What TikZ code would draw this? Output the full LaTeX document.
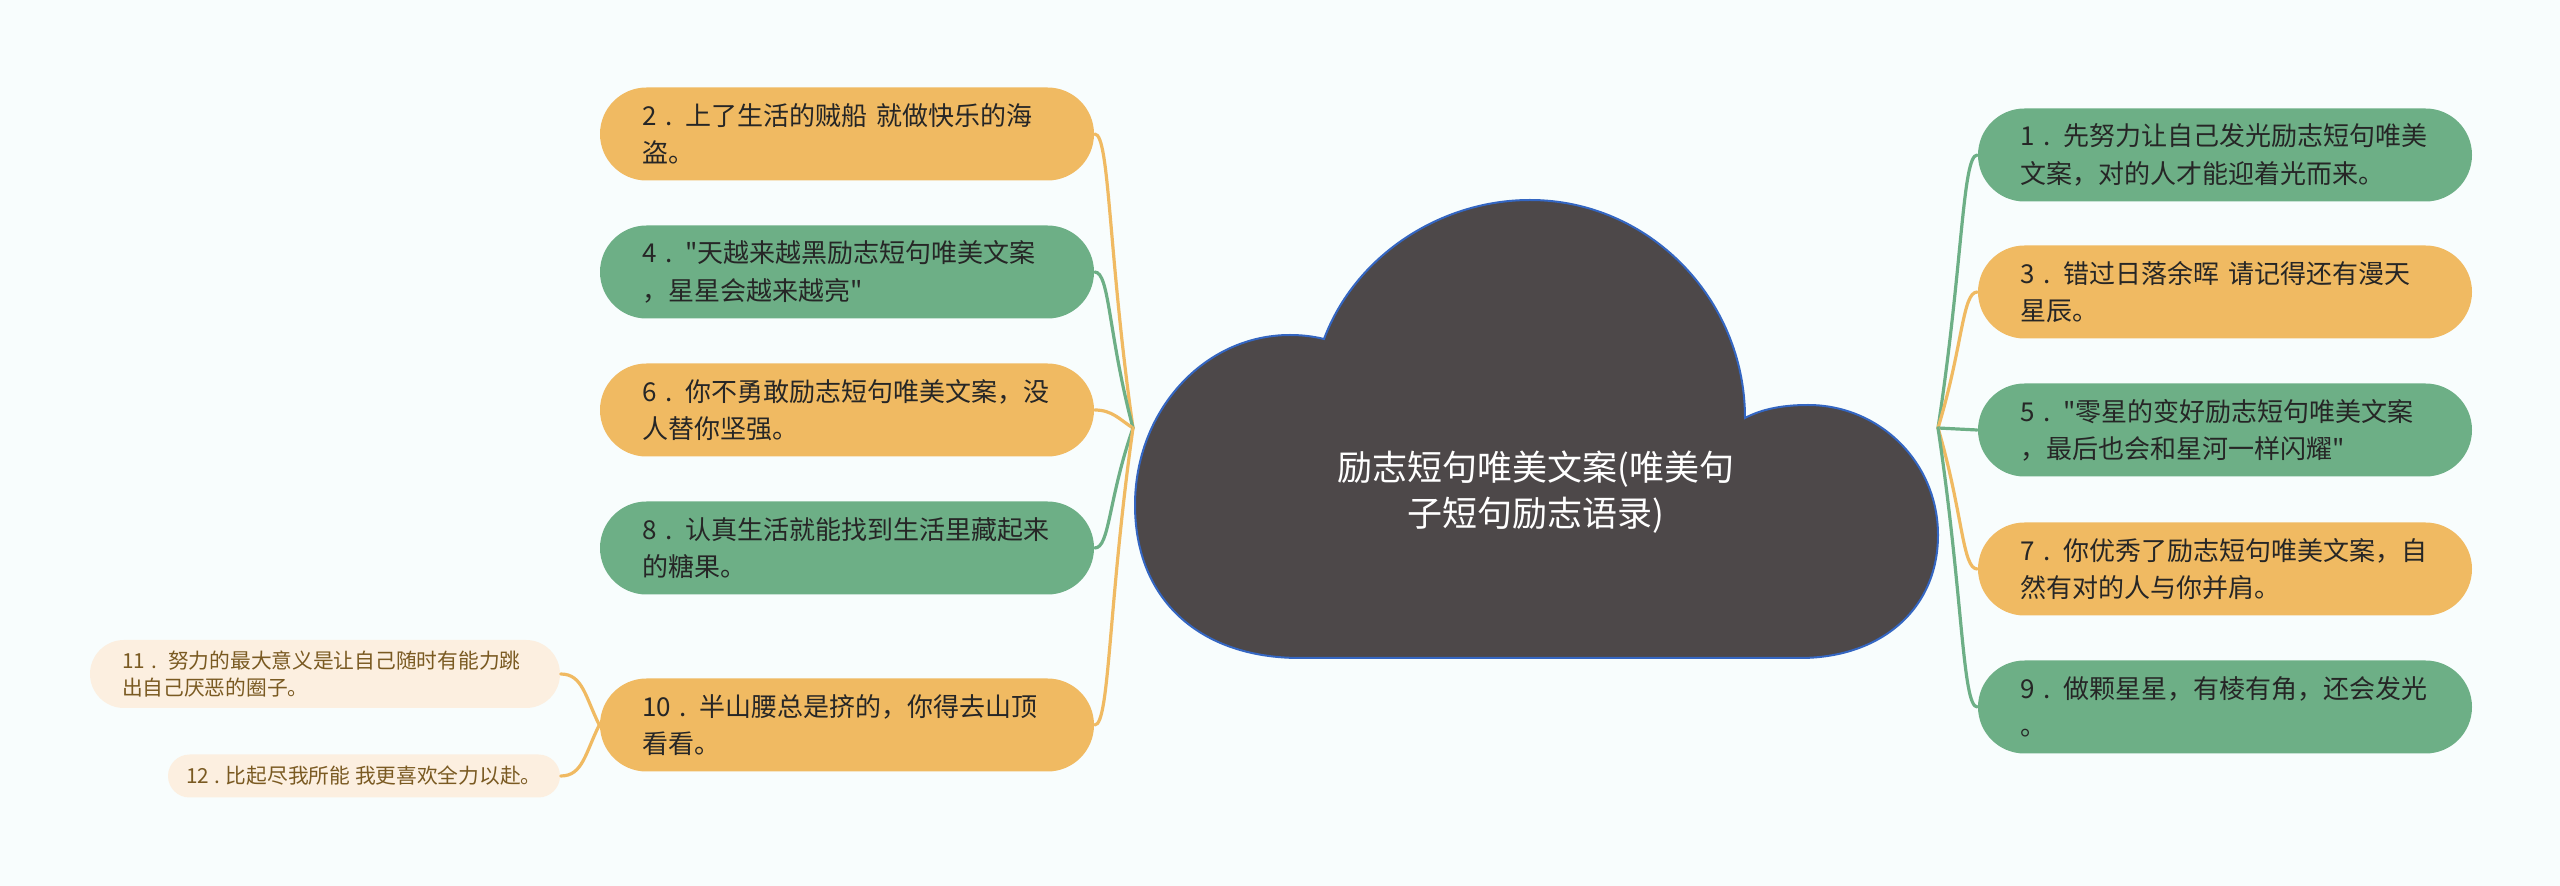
\documentclass[tikz,border=0pt]{standalone}
\usepackage{fontspec}
\newfontfamily\cjk{Noto Sans CJK SC}[Ligatures=TeXOff]
\definecolor{bgcol}{HTML}{F8FDFD}
\definecolor{orangebox}{HTML}{F0BA62}
\definecolor{greenbox}{HTML}{6DAF86}
\definecolor{palebox}{HTML}{FCEFE0}
\definecolor{cloudfill}{HTML}{4D4849}
\definecolor{cloudedge}{HTML}{3466C2}
\definecolor{browntext}{HTML}{7A5A22}
\definecolor{darktext}{HTML}{262626}

\begin{document}
\begin{tikzpicture}[x=0.1mm,y=-0.1mm,
		leaf/.style={rounded corners=4.65mm, minimum height=9.3mm, text width=41mm, inner xsep=4.2mm, inner ysep=0pt, align=left, text=darktext, font=\cjk\fontsize{7.4pt}{10.6pt}\selectfont},
		orangeleaf/.style={leaf, fill=orangebox},
		greenleaf/.style={leaf, fill=greenbox},
		smallleaf/.style={fill=palebox, inner ysep=0pt, text=browntext, font=\cjk\fontsize{5.9pt}{7.5pt}\selectfont},
		oline/.style={draw=orangebox, line width=0.32mm, line cap=round},
		gline/.style={draw=greenbox, line width=0.32mm, line cap=round}]
	\useasboundingbox (0,0) rectangle (2560,886);
	\fill[bgcol] (0,0) rectangle (2560,886);

	% cloud
	\draw[fill=cloudfill, draw=cloudedge, line width=0.2mm]
		(1300,658) -- (1800,658)
		.. controls (1880,658) and (1938,610) .. (1938,535)
		.. controls (1938,463) and (1880,405) .. (1808,405)
		.. controls (1780,405) and (1760,410) .. (1745,418)
		.. controls (1745,299) and (1649,200) .. (1530,200)
		.. controls (1440,200) and (1355,256) .. (1324,339)
		.. controls (1312,336) and (1300,335) .. (1290,335)
		.. controls (1204,335) and (1135,411) .. (1135,505)
		.. controls (1135,600) and (1200,658) .. (1300,658) -- cycle;
	\node[text=white, align=center, font=\cjk\fontsize{9.96pt}{13.1pt}\selectfont] (root) at (1536,492) {励志短句唯美文案(唯美句\\子短句励志语录)};
	\coordinate (jl) at (1133,428);
	\coordinate (jr) at (1938,428);

	% left
	\node[orangeleaf] (n2) at (847,134) {2 . 上了生活的贼船 就做快乐的海\\盗。};
	\node[greenleaf] (n4) at (847,272) {4 . "天越来越黑励志短句唯美文案\\，星星会越来越亮"};
	\node[orangeleaf] (n6) at (847,410) {6 . 你不勇敢励志短句唯美文案，没\\人替你坚强。};
	\node[greenleaf] (n8) at (847,548) {8 . 认真生活就能找到生活里藏起来\\的糖果。};
	\node[orangeleaf] (n10) at (847,725) {10 . 半山腰总是挤的，你得去山顶\\看看。};
	\node[smallleaf, rounded corners=3.4mm, minimum height=6.8mm, text width=40.6mm, inner xsep=3.2mm, align=left] (n11) at (325,674) {11 . 努力的最大意义是让自己随时有能力跳\\出自己厌恶的圈子。};
	\node[smallleaf, rounded corners=2.15mm, minimum height=4.3mm, minimum width=39.2mm] (n12) at (364,776) {12 . 比起尽我所能 我更喜欢全力以赴。};

	% right
	\node[greenleaf] (n1) at (2225,155) {1 . 先努力让自己发光励志短句唯美\\文案，对的人才能迎着光而来。};
	\node[orangeleaf] (n3) at (2225,292) {3 . 错过日落余晖 请记得还有漫天\\星辰。};
	\node[greenleaf] (n5) at (2225,430) {5 . "零星的变好励志短句唯美文案\\，最后也会和星河一样闪耀"};
	\node[orangeleaf] (n7) at (2225,569) {7 . 你优秀了励志短句唯美文案，自\\然有对的人与你并肩。};
	\node[greenleaf] (n9) at (2225,707) {9 . 做颗星星，有棱有角，还会发光\\。};

	% connectors
	\draw[oline] (n2.east) .. controls +(15,0) and +(-25,-176) .. (jl);
	\draw[gline] (n4.east) .. controls +(15,0) and +(-25,-94) .. (jl);
	\draw[oline] (n6.east) .. controls +(18,0) and +(-13,-8) .. (jl);
	\draw[gline] (n8.east) .. controls +(15,0) and +(-25,72) .. (jl);
	\draw[oline] (n10.east) .. controls +(15,0) and +(-25,178) .. (jl);
	\draw[oline] (n11.east) .. controls +(22,0) and +(-14,-28) .. (n10.west);
	\draw[oline] (n12.east) .. controls +(22,0) and +(-14,28) .. (n10.west);
	\draw[gline] (n1.west) .. controls +(-15,0) and +(25,-164) .. (jr);
	\draw[oline] (n3.west) .. controls +(-15,0) and +(25,-82) .. (jr);
	\draw[gline] (jr) -- (n5.west);
	\draw[oline] (n7.west) .. controls +(-15,0) and +(25,85) .. (jr);
	\draw[gline] (n9.west) .. controls +(-15,0) and +(25,167) .. (jr);
\end{tikzpicture}
\end{document}
